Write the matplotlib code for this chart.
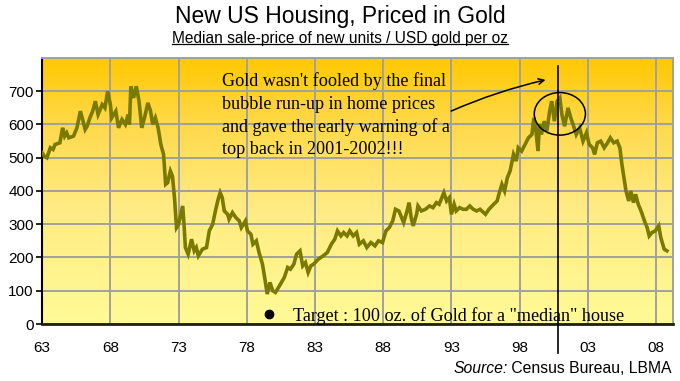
import numpy as np
import matplotlib
matplotlib.use("Agg")
import matplotlib.pyplot as plt
from matplotlib.colors import LinearSegmentedColormap
from matplotlib.patches import Ellipse

# median new-home price / gold price (oz)
years = [1963.0, 1963.15, 1963.35, 1963.6, 1963.8, 1963.95, 1964.3, 1964.5, 1964.65, 1964.8,
         1964.95, 1965.3, 1965.55, 1965.8, 1966.0, 1966.15, 1966.3, 1966.5, 1966.7, 1966.9,
         1967.1, 1967.4, 1967.6, 1967.8, 1968.0, 1968.1, 1968.4, 1968.6, 1968.85, 1969.1,
         1969.3, 1969.4, 1969.5, 1969.7, 1969.9, 1970.1, 1970.3, 1970.5, 1970.75, 1970.95,
         1971.1, 1971.3, 1971.5, 1971.7, 1971.9, 1972.05, 1972.2, 1972.4, 1972.55, 1972.7,
         1972.85, 1973.0, 1973.3, 1973.4, 1973.5, 1973.7, 1973.95, 1974.15, 1974.3, 1974.45,
         1974.75, 1975.05, 1975.25, 1975.5, 1975.7, 1975.9, 1976.05, 1976.2, 1976.35, 1976.6,
         1976.7, 1976.95, 1977.2, 1977.45, 1977.6, 1977.9, 1978.05, 1978.3, 1978.45, 1978.7,
         1978.9, 1979.15, 1979.35, 1979.5, 1979.7, 1979.9, 1980.1, 1980.4, 1980.75, 1981.0,
         1981.2, 1981.45, 1981.65, 1981.9, 1982.1, 1982.3, 1982.5, 1982.7, 1982.9, 1983.25,
         1983.6, 1983.9, 1984.2, 1984.45, 1984.65, 1984.9, 1985.1, 1985.35, 1985.55, 1985.8,
         1986.05, 1986.25, 1986.55, 1986.8, 1987.1, 1987.4, 1987.65, 1987.95, 1988.2, 1988.45,
         1988.7, 1988.9, 1989.15, 1989.35, 1989.5, 1989.75, 1989.9, 1990.05, 1990.2, 1990.45,
         1990.55, 1990.8, 1991.1, 1991.4, 1991.65, 1991.9, 1992.1, 1992.25, 1992.45, 1992.65,
         1992.85, 1993.0, 1993.2, 1993.35, 1993.6, 1993.85, 1994.1, 1994.35, 1994.6, 1994.85,
         1995.1, 1995.5, 1995.75, 1996.1, 1996.35, 1996.55, 1996.7, 1996.9, 1997.1, 1997.3,
         1997.45, 1997.55, 1997.75, 1997.9, 1998.15, 1998.4, 1998.65, 1998.9, 1999.05, 1999.2,
         1999.35, 1999.45, 1999.6, 1999.8, 2000.0, 2000.2, 2000.35, 2000.55, 2000.75, 2000.95,
         2001.1, 2001.3, 2001.55, 2001.75, 2002.0, 2002.15, 2002.4, 2002.65, 2002.9, 2003.1,
         2003.35, 2003.5, 2003.7, 2003.95, 2004.2, 2004.45, 2004.65, 2004.9, 2005.15, 2005.35,
         2005.5, 2005.65, 2005.8, 2006.0, 2006.15, 2006.35, 2006.5, 2006.7, 2006.95, 2007.15,
         2007.35, 2007.5, 2007.7, 2007.95, 2008.2, 2008.35, 2008.6, 2008.8]
ounces = [515, 505, 500, 530, 525, 540, 545, 590, 565, 575,
          560, 565, 590, 640, 610, 585, 595, 620, 640, 670,
          630, 660, 650, 700, 660, 620, 640, 590, 615, 600,
          630, 600, 715, 680, 715, 670, 590, 620, 665, 640,
          600, 620, 590, 540, 510, 420, 425, 460, 445, 380,
          290, 300, 355, 300, 230, 210, 255, 220, 230, 205,
          225, 230, 280, 300, 340, 375, 395, 380, 340, 330,
          315, 335, 320, 310, 290, 310, 280, 270, 240, 250,
          215, 180, 130, 90, 125, 100, 95, 115, 140, 170,
          165, 180, 210, 220, 175, 185, 155, 175, 180, 195,
          205, 215, 240, 255, 280, 265, 275, 265, 280, 265,
          275, 240, 250, 230, 245, 235, 250, 245, 280, 290,
          310, 345, 340, 320, 305, 340, 365, 320, 295, 330,
          355, 340, 345, 355, 350, 365, 360, 375, 395, 370,
          380, 330, 360, 340, 350, 345, 345, 355, 345, 340,
          345, 330, 345, 360, 370, 400, 420, 400, 440, 460,
          490, 510, 490, 530, 520, 540, 560, 570, 620, 580,
          520, 600, 570, 610, 580, 640, 670, 610, 670, 680,
          630, 595, 650, 620, 590, 570, 590, 550, 575, 540,
          530, 510, 545, 550, 530, 545, 560, 545, 550, 530,
          480, 440, 400, 370, 400, 365, 390, 360, 335, 310,
          290, 265, 275, 280, 295, 260, 225, 220]

tick_years = [1963, 1968, 1973, 1978, 1983, 1988, 1993, 1998, 2003, 2008]
tick_labels = ['63', '68', '73', '78', '83', '88', '93', '98', '03', '08']
y_ticks = [0, 100, 200, 300, 400, 500, 600, 700]

warn_year = 2000.8
target_year = 1979.6
target_oz = 30

fig = plt.figure(figsize=(6.8, 3.81), dpi=100)
ax = fig.add_axes([0.062, 0.1496, 0.928, 0.6982])

x0, x1 = 1963, 2009.26
y0, y1 = 0, 800

# gold gradient background
cmap = LinearSegmentedColormap.from_list('gold', [(0, '#FFFA96'), (0.45, '#FFEB82'), (0.75, '#FFD94A'), (1, '#FFC800')])
grad = np.linspace(0, 1, 256).reshape(-1, 1)
ax.imshow(grad, cmap=cmap, aspect='auto', extent=[x0, x1, y0, y1], origin='lower', zorder=0)

ax.set_xlim(x0, x1)
ax.set_ylim(y0, y1)
ax.set_yticks(y_ticks)
ax.set_yticks([800], minor=True)
ax.set_xticks(tick_years)
ax.set_xticklabels(tick_labels)
ax.grid(True, color='#a0a0a0', lw=1.4, zorder=1)
ax.grid(True, which='minor', axis='y', color='#a0a0a0', lw=1.4, zorder=1)
ax.tick_params(axis='y', which='major', length=4, width=1.2, labelsize=11, pad=2)
ax.tick_params(axis='y', which='minor', length=0)
ax.tick_params(axis='x', length=0, labelsize=11, pad=12)
for lab in ax.get_xticklabels() + ax.get_yticklabels():
    lab.set_fontfamily('Liberation Sans')

for s in ['top', 'right']:
    ax.spines[s].set_color('#a0a0a0')
    ax.spines[s].set_linewidth(1.4)
ax.spines['left'].set_linewidth(1.5)
ax.spines['bottom'].set_linewidth(2)
ax.spines['bottom'].set_color('#202010')

ax.plot(years, ounces, color='#7a7a00', lw=2.6, zorder=3, solid_joinstyle='miter')

# annotations
ax.plot([warn_year, warn_year], [775, -88], color='black', lw=1.2, clip_on=False, zorder=4)
ax.add_patch(Ellipse((2000.95, 632), 3.75, 128, fill=False, ec='black', lw=1.1, zorder=4))
ax.annotate('', xy=(2000.1, 736), xytext=(1992.8, 637),
            arrowprops=dict(arrowstyle='->', color='black', lw=1.1,
                            connectionstyle='arc3,rad=-0.05', mutation_scale=10), zorder=4)

ax.text(1976.2, 756, "Gold wasn't fooled by the final\nbubble run-up in home prices\n"
        "and gave the early warning of a\ntop back in 2001-2002!!!",
        family='Liberation Serif', fontsize=13.1, va='top', ha='left', linespacing=1.4, zorder=5)

ax.plot([target_year], [target_oz], marker='o', ms=6, color='black', zorder=5)
ax.text(1981.4, 24, 'Target : 100 oz. of Gold for a "median" house',
        family='Liberation Serif', fontsize=13.1, va='center', ha='left', zorder=5)

fig.text(0.5, 0.958, 'New US Housing, Priced in Gold', ha='center', va='center',
         family='Liberation Sans', fontsize=16.5)
sub = fig.text(0.5, 0.9, 'Median sale-price of new units / USD gold per oz', ha='center', va='center',
               family='Liberation Sans', fontsize=11.2)
src = fig.text(0.988, 0.032, ' Census Bureau, LBMA', ha='right', va='center',
               family='Liberation Sans', fontsize=11.3)
fig.canvas.draw()
inv = fig.transFigure.inverted()
bb = sub.get_window_extent().transformed(inv)
fig.add_artist(plt.Line2D([bb.x0, bb.x1], [bb.y0 + 0.004, bb.y0 + 0.004], color='black', lw=0.9,
                          transform=fig.transFigure))
sb = src.get_window_extent().transformed(inv)
fig.text(sb.x0, 0.032, 'Source:', ha='right', va='center', style='italic',
         family='Liberation Sans', fontsize=11.3)

fig.savefig('out.png', dpi=100)
